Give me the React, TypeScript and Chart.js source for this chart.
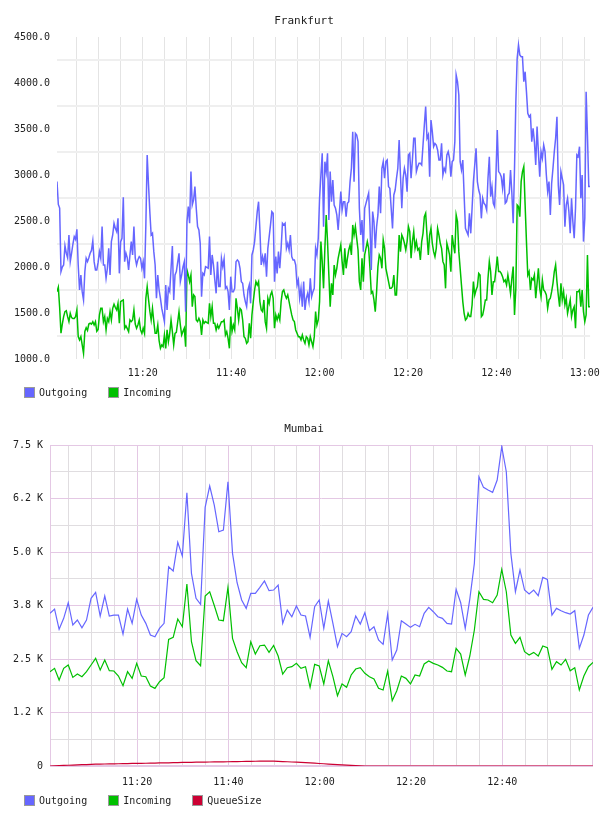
import React, { useEffect, useRef } from 'react';
import { Chart, registerables } from 'chart.js';

Chart.register(...registerables);

const FONT_FAMILY = '"DejaVu Sans Mono", monospace';
const TEXT_COLOR = '#222222';
const OUT_COLOR = '#6666ff';
const IN_COLOR = '#00c000';
const QUEUE_COLOR = '#cc0033';

// Time is expressed in minutes since midnight.
// Frankfurt is sampled every 18 s, Mumbai once a minute.
const FRA_START = 660.6;
const FRA_STEP = 0.3;
const MUM_START = 660.9;
const MUM_STEP = 1;

const FRA_OUTGOING = [
  2928, 2680, 2640, 1950, 2000, 2022, 2232, 2150, 2100, 2348,
  2058, 2150, 2250, 2330, 2300, 2410, 2022, 1750, 1913, 1732,
  1642, 1950, 2095, 2058, 2100, 2150, 2180, 2283, 2058, 1968,
  1968, 2050, 2167, 2095, 2439, 2022, 2022, 1877, 1986, 2203,
  1913, 2276, 2348, 2475, 2420, 2384, 2529, 1931, 2276, 2312,
  2758, 2058, 2150, 2100, 1968, 2131, 2276, 2131, 2439, 2100,
  2022, 2080, 2113, 2095, 1986, 2058, 1877, 2457, 3218, 2900,
  2600, 2348, 2366, 2167, 2022, 1660, 1913, 1750, 1660, 1550,
  1479, 1406, 1805, 1533, 1768, 1732, 1986, 2229, 1642, 1913,
  1950, 2050, 2149, 1841, 1913, 2000, 2058, 1515, 2493, 2656,
  2475, 3037, 2674, 2729, 2874, 2638, 2439, 2402, 2258, 1678,
  1931, 1913, 2004, 1995, 1986,
  2330, 1913, 2131, 2022, 1859, 1714, 2058, 1787, 1787, 2095,
  2004, 2087, 1768, 1787, 1732, 1533, 1895, 1732, 1732, 1768,
  2058, 2077, 2058, 1986, 1841, 1823, 1696, 1624, 1569, 1750,
  1805, 1605, 2131, 2185, 2276, 2439, 2602, 2710, 2402, 2022,
  2113, 2040, 2149, 1895, 2203, 2330, 2457, 2602, 2584, 1841,
  2113, 1931, 2167, 1986, 2203, 2475, 2457, 2475, 2203, 2258,
  2185, 2348, 2113, 2077, 2077, 2022, 1805, 1859, 1660, 1768,
  1569, 1841, 1533, 1660, 1714, 1624, 1877, 1678, 1732, 1768,
  2203, 2131, 2312, 2747, 3000, 3236,
  2439, 3145, 3037, 3236, 2511, 3037, 2710, 2946, 2674, 2638,
  2566, 2402, 2602, 2819, 2620, 2710, 2710, 2547, 2692, 2710,
  2928, 3073, 3471, 2928, 3453, 3435, 3363, 2638, 2348, 2511,
  2167, 2638, 2692, 2747, 2801, 2457, 1968, 2602, 2493, 2203,
  2439, 2566, 2874, 2584, 3073, 3145, 2964, 3145, 3163, 2874,
  2855, 2638, 2420, 2783, 2837, 2964, 3073, 3381, 3000, 2638,
  2964, 3073, 3000, 2819, 3218, 3236, 2964, 3163, 3399, 3399,
  3037, 3091, 3127, 3127, 3109, 3326, 3544, 3743, 3399, 3435,
  2982, 3598, 3471, 3308, 3344, 3326, 3272, 3163, 3163, 3344,
  3000, 3073, 3037, 3218, 3254, 3181, 2982, 3145, 3163, 3363,
  4087, 4015, 3870, 3145, 3055, 3163, 2783, 2420, 2384, 2348,
  2584, 2366, 2638, 2928, 3109, 3290, 2928, 2837, 2783, 2529,
  2747, 2692, 2674, 2620, 2964, 3199, 2765, 2874, 2692, 2656,
  3000, 3489, 3037, 3018, 2982, 2855, 3018, 2692, 2710, 2783,
  2801, 3055, 2801, 2475, 3073, 3797, 4268, 4413, 4305, 4286,
  4286, 4015, 4123, 3906, 3671, 3634, 3652, 3363, 3508, 3363,
  3109, 3526, 3254, 2982, 3254, 3181, 3326, 3254, 3000, 2819,
  2928, 2566, 2910, 3073, 3254, 3399, 3634, 2892, 2674, 3037,
  2964, 2892, 2439, 2674, 2747, 2602, 2366, 2747, 2493, 2312,
  2638, 3218, 3199, 3308, 2747, 3000, 2276, 2529, 3906, 3435,
  2874, 2874,
];

const FRA_INCOMING = [
  1732, 1780, 1560, 1280, 1380, 1461, 1515, 1525, 1460, 1406,
  1497, 1450, 1440, 1440, 1460, 1533, 1243, 1207, 1243, 1153,
  1062, 1300, 1341, 1310, 1380, 1390, 1380, 1406, 1370, 1406,
  1300, 1320, 1479, 1551, 1551, 1406, 1461, 1316, 1440, 1406,
  1515, 1424, 1551, 1595, 1560, 1533, 1605, 1388, 1624, 1634,
  1642, 1334, 1360, 1330, 1298, 1424, 1406, 1424, 1533, 1380,
  1334, 1370, 1424, 1316, 1279, 1334, 1279, 1660, 1787, 1650,
  1520, 1424, 1551, 1406, 1279, 1279, 1370, 1200, 1116, 1153,
  1134, 1261, 1116, 1316, 1189, 1279, 1424, 1298, 1153, 1279,
  1290, 1400, 1515, 1370, 1261, 1300, 1334, 1134, 1968, 1913,
  1841, 1913, 1569, 1696, 1678, 1424, 1406, 1442, 1406, 1261,
  1424, 1388, 1406, 1395, 1388,
  1605, 1461, 1569, 1388, 1388, 1316, 1370, 1334, 1370, 1406,
  1406, 1424, 1261, 1298, 1225, 1116, 1461, 1298, 1370, 1316,
  1660, 1551, 1424, 1551, 1533, 1424, 1243, 1225, 1171, 1189,
  1388, 1225, 1479, 1624, 1750, 1841, 1805, 1841, 1624, 1533,
  1515, 1642, 1406, 1334, 1660, 1605, 1696, 1732, 1660, 1334,
  1479, 1424, 1479, 1424, 1624, 1732, 1750, 1696, 1660, 1696,
  1624, 1551, 1479, 1424, 1406, 1316, 1279, 1243, 1243, 1207,
  1261, 1207, 1171, 1243, 1225, 1153, 1243, 1189, 1134, 1243,
  1515, 1370, 1424, 1624, 2276, 2058,
  1768, 2203, 2566, 2276, 1913, 1569, 1823, 1696, 2022, 1913,
  1986, 2095, 2167, 2239, 2058, 1913, 2203, 1986, 2095, 2185,
  2239, 2131, 2457, 2348, 2439, 2312, 2185, 1841, 1750, 2095,
  1841, 2131, 2203, 2276, 2203, 1986, 1714, 1732, 1642, 1515,
  1732, 2004, 2131, 2095, 1986, 2294, 2203, 1986, 1913, 1841,
  1768, 1768, 1787, 1913, 1696, 1696, 1986, 2348, 2167, 2348,
  2312, 2258, 2185, 2276, 2439, 2384, 2095, 2276, 2384, 2203,
  2276, 2185, 2203, 2077, 2276, 2366, 2547, 2584, 2348, 2131,
  2348, 2420, 2258, 2167, 2113, 2203, 2420, 2348, 2258, 2203,
  2058, 2022, 1768, 2258, 2203, 2131, 1950, 2348, 2239, 2149,
  2566, 2493, 2167, 1986, 1805, 1624, 1497, 1424, 1442, 1497,
  1461, 1461, 1587, 1841, 1696, 1750, 1787, 1931, 1913, 1461,
  1479, 1551, 1642, 1642, 1877, 2058, 1950, 1696, 1841, 1841,
  1968, 2113, 1950, 1950, 1931, 1895, 1841, 1859, 1805, 1913,
  1823, 1714, 1877, 2004, 1479, 1768, 2674, 2656, 2547, 2928,
  3037, 3091,
  2674, 2276, 1913, 1950, 1750, 1877, 1859, 1913, 1660, 1823,
  1986, 1768, 1678, 1859, 1750, 1732, 1696, 1551, 1642, 1660,
  1732, 1823, 1950, 2022, 1841, 1696, 1569, 1823, 1642, 1732,
  1587, 1660, 1497, 1569, 1642, 1461, 1533, 1569, 1334, 1732,
  1732, 1750, 1569, 1750, 1515, 1406, 1479, 2131, 1569,
  1569,
];

const MUM_OUTGOING = [
  3567, 3667, 3193, 3450, 3815, 3294, 3411, 3231, 3411, 3917,
  4057, 3504, 3971, 3504, 3527, 3527, 3083, 3667, 3333, 3893,
  3527, 3333, 3060, 3021, 3216, 3333, 4656, 4555, 5226, 4906,
  6385, 4501, 3917, 3777, 6043, 6541, 6097, 5473, 5513, 6641,
  4968, 4282, 3878, 3683, 4034, 4034, 4174, 4322, 4096, 4111,
  4228, 3333, 3644, 3488, 3738, 3527, 3504, 3006, 3722, 3878,
  3216, 3854, 3333, 2787, 3099, 3021, 3138, 3504, 3317, 3582,
  3161, 3255, 2943, 2842, 3551, 2476, 2710, 3395, 3317, 3239,
  3310, 3255, 3567, 3707, 3605, 3488, 3450, 3333, 3317, 4127,
  3815, 3216, 3900, 4735, 6758, 6510, 6447, 6393, 6681, 7459,
  6875, 4968, 4072, 4579, 4111, 4018, 4111, 3979, 4407, 4361,
  3527, 3683, 3629, 3582, 3551, 3629, 2749, 3060, 3527, 3707,
];

const MUM_INCOMING = [
  2203, 2281, 2009, 2281, 2359, 2071, 2149, 2087, 2203, 2359,
  2515, 2243, 2476, 2228, 2220, 2102, 1876, 2203, 2048, 2398,
  2102, 2087, 1869, 1814, 1970, 2064, 2959, 3006, 3434, 3255,
  4252, 2904, 2460, 2343, 3971, 4072, 3750, 3411, 3395, 4174,
  2983, 2670, 2413, 2296, 2904, 2616, 2811, 2826, 2655, 2818,
  2570, 2149, 2296, 2320, 2398, 2281, 2320, 1838, 2375, 2336,
  1916, 2460, 2087, 1643, 1916, 1838, 2126, 2266, 2296, 2165,
  2087, 2032, 1814, 1775, 2219, 1526, 1760, 2102, 2048, 1916,
  2126, 2102, 2383, 2453, 2398, 2359, 2305, 2219, 2203, 2749,
  2616, 2126, 2570, 3177, 4072, 3893, 3878, 3815, 3995, 4594,
  4072, 3060, 2866, 3006, 2670, 2593, 2655, 2570, 2803, 2764,
  2258, 2437, 2359, 2492, 2226, 2296, 1775, 2102, 2320, 2422,
];

const MUM_QUEUE = [
  0, 5, 10, 14, 18, 22, 26, 30, 34, 38,
  42, 45, 47, 49, 51, 53, 55, 57, 59, 61,
  62, 64, 66, 68, 71, 73, 75, 78, 80, 83,
  86, 87, 89, 90, 92, 93, 95, 96, 98, 99,
  101, 103, 105, 107, 109, 111, 113, 115, 117, 114,
  110, 104, 99, 94, 90, 86, 79, 72, 66, 59,
  52, 46, 39, 33, 27, 21, 15, 10, 5, 0,
  0, 0, 0, 0, 0, 0, 0, 0, 0, 0,
  0, 0, 0, 0, 0, 0, 0, 0, 0, 0,
  0, 0, 0, 0, 0, 0, 0, 0, 0, 0,
  0, 0, 0, 0, 0, 0, 0, 0, 0, 0,
  0, 0, 0, 0, 0, 0, 0, 0, 0, 0,
];

// Axis ticks: a grid line every 5 minutes, a time label every 20.
const TIME_TICKS = [
  665, 670, 675, 680, 685, 690, 695, 700, 705, 710, 715, 720,
  725, 730, 735, 740, 745, 750, 755, 760, 765, 770, 775, 780,
];
const FRA_Y_TICKS = [
  1000, 1250, 1500, 1750, 2000, 2250, 2500, 2750,
  3000, 3250, 3500, 3750, 4000, 4250, 4500,
];
const MUM_Y_TICKS = [
  0, 625, 1250, 1875, 2500, 3125, 3750, 4375, 5000, 5625, 6250, 6875, 7500,
];
const MUM_Y_LABELS = ['0', '1.2 K', '2.5 K', '3.8 K', '5.0 K', '6.2 K', '7.5 K'];

const FRA_SERIES = [
  { label: 'Outgoing', color: OUT_COLOR, values: FRA_OUTGOING },
  { label: 'Incoming', color: IN_COLOR, values: FRA_INCOMING },
];
const MUM_SERIES = [
  { label: 'Outgoing', color: OUT_COLOR, values: MUM_OUTGOING },
  { label: 'Incoming', color: IN_COLOR, values: MUM_INCOMING },
  { label: 'QueueSize', color: QUEUE_COLOR, values: MUM_QUEUE },
];

const tickFont = { family: FONT_FAMILY, size: 10 };

function clock(m: number): string {
  const h = Math.floor(m / 60);
  const min = Math.round(m - h * 60);
  return `${h}:${String(min).padStart(2, '0')}`;
}

function series(start: number, step: number, values: number[]) {
  return values.map((v, i) => ({ x: start + i * step, y: v }));
}

function lineDataset(label: string, color: string, data: any[], width: number) {
  return {
    label,
    data,
    borderColor: color,
    backgroundColor: color,
    borderWidth: width,
    pointRadius: 0,
    pointHoverRadius: 0,
    tension: 0,
    fill: false,
  };
}

function titleOptions(text: string) {
  return {
    display: true,
    text,
    color: TEXT_COLOR,
    font: { family: FONT_FAMILY, size: 11, weight: 'normal' },
    padding: { top: 14.5, bottom: 9.3 },
  };
}

// Invisible right-hand spacer keeps the plot clear of the canvas edge
// while the title stays centred on the whole canvas.
const spacerAxis = {
  type: 'linear',
  position: 'right',
  display: true,
  ticks: { display: false },
  grid: { display: false },
  border: { display: false },
  afterFit: (s: any) => { s.width = 12; },
};

function timeAxis(min: number, max: number, pad: number, color: any) {
  return {
    type: 'linear',
    min,
    max,
    afterBuildTicks: (s: any) => {
      s.ticks = TIME_TICKS.filter((v) => v >= s.min && v <= s.max).map((v) => ({ value: v }));
    },
    ticks: {
      autoSkip: false,
      maxRotation: 0,
      padding: pad,
      color: TEXT_COLOR,
      font: tickFont,
      callback: (v: number) => (v % 20 === 0 ? clock(v) : ''),
    },
    grid: { drawTicks: false, color, lineWidth: 1 },
    border: { display: false },
    afterFit: (s: any) => { s.height = 22; },
  };
}

const plotFrame = {
  id: 'plotFrame',
  beforeDatasetsDraw(chart: any) {
    const { ctx, chartArea: a } = chart;
    ctx.save();
    ctx.strokeStyle = '#e4c8e4';
    ctx.lineWidth = 1;
    ctx.strokeRect(a.left + 0.5, a.top + 0.5, a.width - 1, a.height - 1);
    ctx.restore();
  },
};

function baseOptions(title: string, bottom: number) {
  return {
    responsive: false,
    animation: false,
    devicePixelRatio: 1,
    events: [],
    layout: { padding: { left: 3, right: 3, top: 0, bottom } },
    plugins: {
      title: titleOptions(title),
      legend: { display: false },
      tooltip: { enabled: false },
    },
  };
}

function frankfurtConfig(): any {
  const datasets = FRA_SERIES.map((s) =>
    lineDataset(s.label, s.color, series(FRA_START, FRA_STEP, s.values), 1.5));
  const first = datasets[0].data[0].x;
  const last = datasets[0].data[datasets[0].data.length - 1].x;
  return {
    type: 'line',
    data: { datasets },
    options: {
      ...baseOptions('Frankfurt', 27),
      scales: {
        x: timeAxis(first, last, 8, '#e4e4e4'),
        y: {
          type: 'linear',
          min: 1000,
          max: 4500,
          afterBuildTicks: (s: any) => { s.ticks = FRA_Y_TICKS.map((v) => ({ value: v })); },
          ticks: {
            autoSkip: false,
            padding: 7,
            color: TEXT_COLOR,
            font: tickFont,
            callback: (v: number) => (v % 500 === 0 ? v.toFixed(1) : ''),
          },
          grid: {
            drawTicks: false,
            lineWidth: 2,
            color: (c: any) => (c.tick && c.tick.value % 500 === 0 ? 'rgba(0,0,0,0)' : '#efefef'),
          },
          border: { display: false },
          afterFit: (s: any) => { s.width = 54; },
        },
        pad: spacerAxis,
      },
    },
  };
}

function mumbaiConfig(): any {
  const datasets = MUM_SERIES.map((s) =>
    lineDataset(s.label, s.color, series(MUM_START, MUM_STEP, s.values), 1.2));
  const first = datasets[0].data[0].x;
  const last = datasets[0].data[datasets[0].data.length - 1].x;
  const major = '#e4c8e4';
  const minor = '#e0dde0';
  return {
    type: 'line',
    data: { datasets },
    options: {
      ...baseOptions('Mumbai', 28),
      scales: {
        x: timeAxis(first, last, 10, (c: any) => (c.tick && c.tick.value % 20 === 0 ? major : minor)),
        y: {
          type: 'linear',
          min: 0,
          max: 7500,
          afterBuildTicks: (s: any) => { s.ticks = MUM_Y_TICKS.map((v) => ({ value: v })); },
          ticks: {
            autoSkip: false,
            padding: 7,
            color: TEXT_COLOR,
            font: tickFont,
            callback: (v: number) => (v % 1250 === 0 ? MUM_Y_LABELS[v / 1250] : ''),
          },
          grid: {
            drawTicks: false,
            lineWidth: 1,
            color: (c: any) => (c.tick && c.tick.value % 1250 === 0 ? major : minor),
          },
          border: { display: false },
          afterFit: (s: any) => { s.width = 47; },
        },
        pad: spacerAxis,
      },
    },
    plugins: [plotFrame],
  };
}

function Legend({ top, items }: { top: number; items: { label: string; color: string }[] }) {
  return (
    <div
      style={{
        position: 'absolute',
        left: 24,
        top,
        height: 11,
        display: 'flex',
        alignItems: 'center',
        fontFamily: FONT_FAMILY,
        fontSize: 10,
        lineHeight: '11px',
        color: TEXT_COLOR,
        whiteSpace: 'nowrap',
      }}
    >
      {items.map((it) => (
        <div key={it.label} style={{ display: 'flex', alignItems: 'center', marginRight: 21 }}>
          <span
            style={{
              display: 'inline-block',
              width: 11,
              height: 11,
              boxSizing: 'border-box',
              border: '1px solid #9a9a9a',
              background: it.color,
              marginRight: 4,
            }}
          />
          <span>{it.label}</span>
        </div>
      ))}
    </div>
  );
}

function ChartPanel({ top, build }: { top: number; build: () => any }) {
  const ref = useRef<HTMLCanvasElement | null>(null);
  useEffect(() => {
    if (!ref.current) return undefined;
    const chart = new Chart(ref.current, build());
    return () => chart.destroy();
  }, [build]);
  return (
    <div style={{ position: 'absolute', left: 0, top, width: 608, height: 408 }}>
      <canvas ref={ref} width={608} height={408} style={{ display: 'block' }} />
    </div>
  );
}

export default function App() {
  return (
    <div style={{ position: 'absolute', left: 0, top: 0, width: 608, height: 816, background: '#ffffff' }}>
      <ChartPanel top={0} build={frankfurtConfig} />
      <Legend top={387} items={FRA_SERIES} />
      <ChartPanel top={408} build={mumbaiConfig} />
      <Legend top={795} items={MUM_SERIES} />
    </div>
  );
}
